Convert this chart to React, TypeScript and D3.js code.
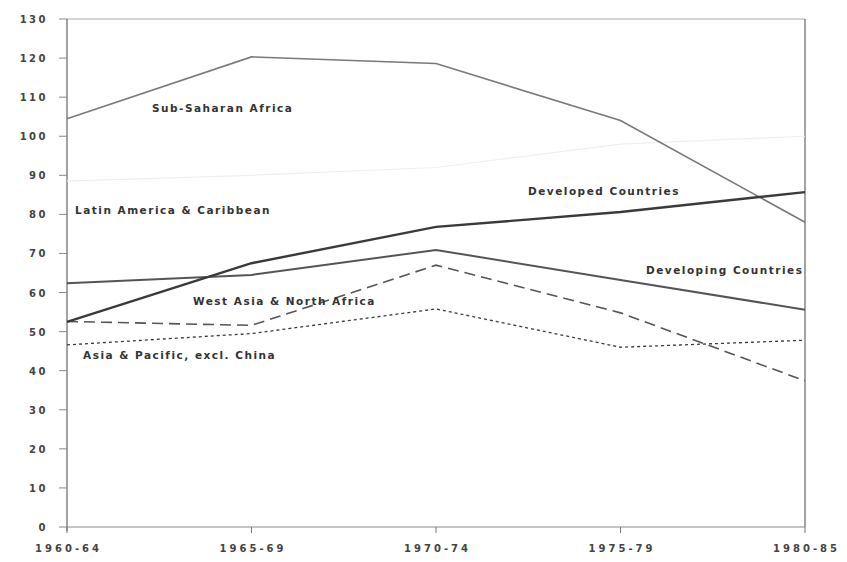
import React from "react";
import * as d3 from "d3";

const periods = ["1960-64", "1965-69", "1970-74", "1975-79", "1980-85"];
const yTicks = [0, 10, 20, 30, 40, 50, 60, 70, 80, 90, 100, 110, 120, 130];

const subSaharanAfrica = [104.5, 120.3, 118.6, 104, 78];
const latinAmerica = [88.5, 90, 92, 98, 100];
const developedCountries = [52.5, 67.5, 76.8, 80.6, 85.7];
const developingCountries = [62.4, 64.5, 70.9, 63.2, 55.6];
const westAsiaNorthAfrica = [52.6, 51.6, 67, 54.8, 37.4];
const asiaPacificExclChina = [46.6, 49.5, 55.8, 46, 47.8];

const W = 847;
const H = 562;
const left = 67;
const right = 805;
const top = 19;
const bottom = 527;

export default function App() {
  const x = d3.scalePoint<string>().domain(periods).range([left, right]);
  const y = d3.scaleLinear().domain([0, 130]).range([bottom, top]);
  const line = d3
    .line<number>()
    .x((_, i) => x(periods[i]) as number)
    .y((d) => y(d));

  const series = [
    { values: latinAmerica, color: "#efefef", width: 1.2, dash: "" },
    { values: subSaharanAfrica, color: "#7a7a7a", width: 1.6, dash: "" },
    { values: asiaPacificExclChina, color: "#3a3a3a", width: 1.3, dash: "3,3" },
    { values: westAsiaNorthAfrica, color: "#555", width: 1.6, dash: "11,6" },
    { values: developingCountries, color: "#555", width: 2, dash: "" },
    { values: developedCountries, color: "#3a3a3a", width: 2.4, dash: "" },
  ];

  const labels = [
    { text: "Sub-Saharan Africa", x: 152, y: 112 },
    { text: "Latin America & Caribbean", x: 75, y: 214 },
    { text: "Developed Countries", x: 528, y: 195 },
    { text: "Developing Countries", x: 646, y: 274 },
    { text: "West Asia & North Africa", x: 193, y: 305 },
    { text: "Asia & Pacific, excl. China", x: 83, y: 359 },
  ];

  return (
    <svg
      width={W}
      height={H}
      style={{ position: "absolute", left: 0, top: 0, background: "#fff" }}
      fontFamily="'DejaVu Sans', Verdana, sans-serif"
    >
      {/* frame */}
      <line x1={left} x2={right} y1={top} y2={top} stroke="#aaa" strokeWidth={1} />
      <line x1={right} x2={right} y1={top} y2={bottom} stroke="#666" strokeWidth={1.2} />
      <line x1={left} x2={left} y1={top} y2={bottom + 4} stroke="#666" strokeWidth={1.2} />
      <line x1={left} x2={right} y1={bottom} y2={bottom} stroke="#888" strokeWidth={1} />

      {/* y ticks */}
      {yTicks.map((t) => (
        <g key={t}>
          <line x1={left - 8} x2={left} y1={y(t)} y2={y(t)} stroke="#888" strokeWidth={1} />
          <text
            x={48}
            y={y(t) + 4}
            textAnchor="end"
            fontSize={10}
            fontWeight="bold"
            fill="#444"
            letterSpacing={2.5}
          >
            {t}
          </text>
        </g>
      ))}

      {/* x ticks */}
      {periods.map((p) => (
        <g key={p}>
          <line
            x1={x(p) as number}
            x2={x(p) as number}
            y1={bottom}
            y2={bottom + 6}
            stroke="#777"
            strokeWidth={1}
          />
          <text
            x={(x(p) as number) + 1.5}
            y={552}
            textAnchor="middle"
            fontSize={10}
            fontWeight="bold"
            fill="#444"
            letterSpacing={3}
          >
            {p}
          </text>
        </g>
      ))}

      {series.map((s, i) => (
        <path
          key={i}
          d={line(s.values) || ""}
          fill="none"
          stroke={s.color}
          strokeWidth={s.width}
          strokeDasharray={s.dash || undefined}
        />
      ))}

      {labels.map((l) => (
        <text
          key={l.text}
          x={l.x}
          y={l.y}
          fontSize={10.5}
          fontWeight="bold"
          fill="#333"
          letterSpacing={1.5}
        >
          {l.text}
        </text>
      ))}
    </svg>
  );
}
